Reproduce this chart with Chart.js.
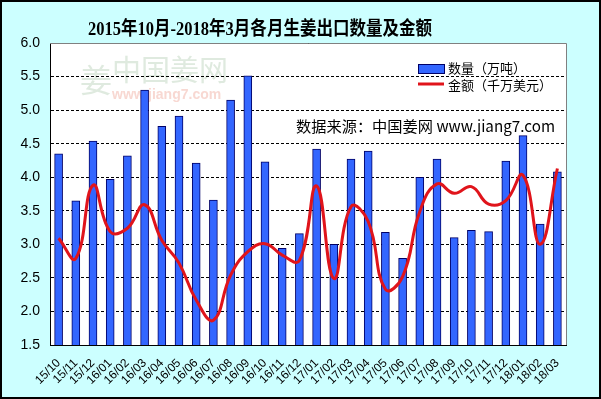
<!DOCTYPE html>
<html>
<head>
<meta charset="utf-8">
<script src="https://cdn.jsdelivr.net/npm/chart.js@4/dist/chart.umd.min.js"></script>
<style>
html,body{margin:0;padding:0;background:#CCFFFF;}
#wrap{width:601px;height:399px;position:relative;}
</style>
</head>
<body>
<div id="wrap"><canvas id="c" width="601" height="399"></canvas></div>
<script>
const categories = ["15/10","15/11","15/12","16/01","16/02","16/03","16/04","16/05","16/06","16/07","16/08","16/09","16/10","16/11","16/12","17/01","17/02","17/03","17/04","17/05","17/06","17/07","17/08","17/09","17/10","17/11","17/12","18/01","18/02","18/03"];
const quantity = [4.35,3.65,4.54,3.97,4.32,5.30,4.76,4.91,4.21,3.66,5.15,5.51,4.23,2.94,3.16,4.42,3.00,4.27,4.39,3.18,2.79,4.00,4.27,3.10,3.21,3.19,4.24,4.62,3.30,4.08];
const amount = [3.09,2.79,3.88,3.19,3.24,3.59,3.06,2.72,2.17,1.87,2.54,2.89,3.01,2.84,2.76,3.87,2.49,3.56,3.34,2.33,2.52,3.49,3.90,3.76,3.86,3.60,3.65,4.03,3.00,4.13];
const yTicks = [1.5,2.0,2.5,3.0,3.5,4.0,4.5,5.0,5.5,6.0];
const titleText = "2015年10月-2018年3月各月生姜出口数量及金额";
const legendQty = "数量（万吨）";
const legendAmt = "金额（千万美元）";
const sourceText = "数据来源：中国姜网 www.jiang7.com";

const decor = {
  id: 'decor',
  beforeDraw(chart) {
    const ctx = chart.ctx;
    ctx.save();
    ctx.fillStyle = '#CCFFFF';
    ctx.fillRect(0, 0, 601, 399);
    ctx.strokeStyle = '#000';
    ctx.lineWidth = 2;
    ctx.strokeRect(1, 1, 599, 397);
    const a = chart.chartArea;
    ctx.fillStyle = '#FFFFFF';
    ctx.fillRect(a.left, a.top, a.right - a.left, a.bottom - a.top);
    // watermark
    ctx.fillStyle = '#dfeadf';
    ctx.font = '32px "Noto Sans CJK SC"';
    ctx.textBaseline = 'middle';
    ctx.fillText('姜', 80, 80);
    ctx.font = '29px "Noto Sans CJK SC"';
    ctx.fillText('中国姜网', 112, 70);
    ctx.fillStyle = '#f8d8d2';
    ctx.font = 'bold 14px "Liberation Sans"';
    ctx.fillText('www.jiang7.com', 112, 95);
    ctx.restore();
  },
  afterDraw(chart) {
    const ctx = chart.ctx;
    const a = chart.chartArea;
    ctx.save();
    ctx.strokeStyle = '#808080';
    ctx.lineWidth = 1;
    ctx.beginPath();
    ctx.moveTo(a.left, a.top + 0.5);
    ctx.lineTo(a.right + 0.5, a.top + 0.5);
    ctx.lineTo(a.right + 0.5, a.bottom);
    ctx.stroke();
    // title
    ctx.fillStyle = '#000';
    ctx.textBaseline = 'middle';
    ctx.textAlign = 'left';
    ctx.font = 'bold 19px "Liberation Serif", "Noto Sans CJK SC"';
    let w = ctx.measureText(titleText).width;
    ctx.save();
    ctx.translate(88, 30);
    ctx.scale(344 / w, 1);
    ctx.fillText(titleText, 0, 0);
    ctx.restore();
    // legend
    ctx.fillStyle = '#3366FF';
    ctx.strokeStyle = '#000066';
    ctx.lineWidth = 1;
    ctx.fillRect(418, 64, 26, 9);
    ctx.strokeRect(418.5, 64.5, 26, 9);
    ctx.strokeStyle = '#E0141B';
    ctx.lineWidth = 3;
    ctx.beginPath();
    ctx.moveTo(418, 84);
    ctx.lineTo(444, 84);
    ctx.stroke();
    ctx.fillStyle = '#000';
    ctx.font = '13px "Noto Sans CJK SC"';
    ctx.fillText(legendQty, 448, 68);
    ctx.fillText(legendAmt, 448, 85);
    // source
    ctx.font = '15px "Noto Sans CJK SC"';
    w = ctx.measureText(sourceText).width;
    ctx.save();
    ctx.translate(296, 126);
    ctx.scale(259 / w, 1);
    ctx.fillText(sourceText, 0, 0);
    ctx.restore();
    ctx.restore();
  }
};

new Chart(document.getElementById('c'), {
  data: {
    labels: categories,
    datasets: [
      {
        type: 'line',
        label: legendAmt,
        data: amount,
        borderColor: '#E0141B',
        borderWidth: 3,
        pointRadius: 0,
        tension: 0.45,
        fill: false,
        order: 1
      },
      {
        type: 'bar',
        label: legendQty,
        data: quantity,
        backgroundColor: '#3366FF',
        borderColor: '#000066',
        borderWidth: 1,
        barThickness: 8,
        order: 2
      }
    ]
  },
  plugins: [decor],
  options: {
    responsive: false,
    animation: false,
    layout: { padding: { left: 0, right: 35, top: 43, bottom: 0 } },
    plugins: { legend: { display: false }, title: { display: false }, tooltip: { enabled: false } },
    scales: {
      x: {
        offset: true,
        grid: { display: false },
        border: { display: true, color: '#000', width: 1 },
        ticks: {
          color: '#000',
          font: { family: '"Liberation Sans"', size: 12 },
          maxRotation: 45, minRotation: 45, autoSkip: false, padding: 3
        },
        afterFit(s) { s.height = 54; }
      },
      y: {
        min: 1.5, max: 6.0,
        afterBuildTicks(s) { s.ticks = yTicks.map(v => ({ value: v })); },
        grid: { color: '#000', lineWidth: 1, tickLength: 0, drawTicks: false },
        border: { display: true, color: '#000', width: 1, dash: [3, 2] },
        ticks: {
          color: '#000',
          font: { family: '"Liberation Sans"', size: 14 },
          padding: 10,
          callback: v => Number(v).toFixed(1)
        },
        afterFit(s) { s.width = 50; }
      }
    }
  }
});
</script>
</body>
</html>
